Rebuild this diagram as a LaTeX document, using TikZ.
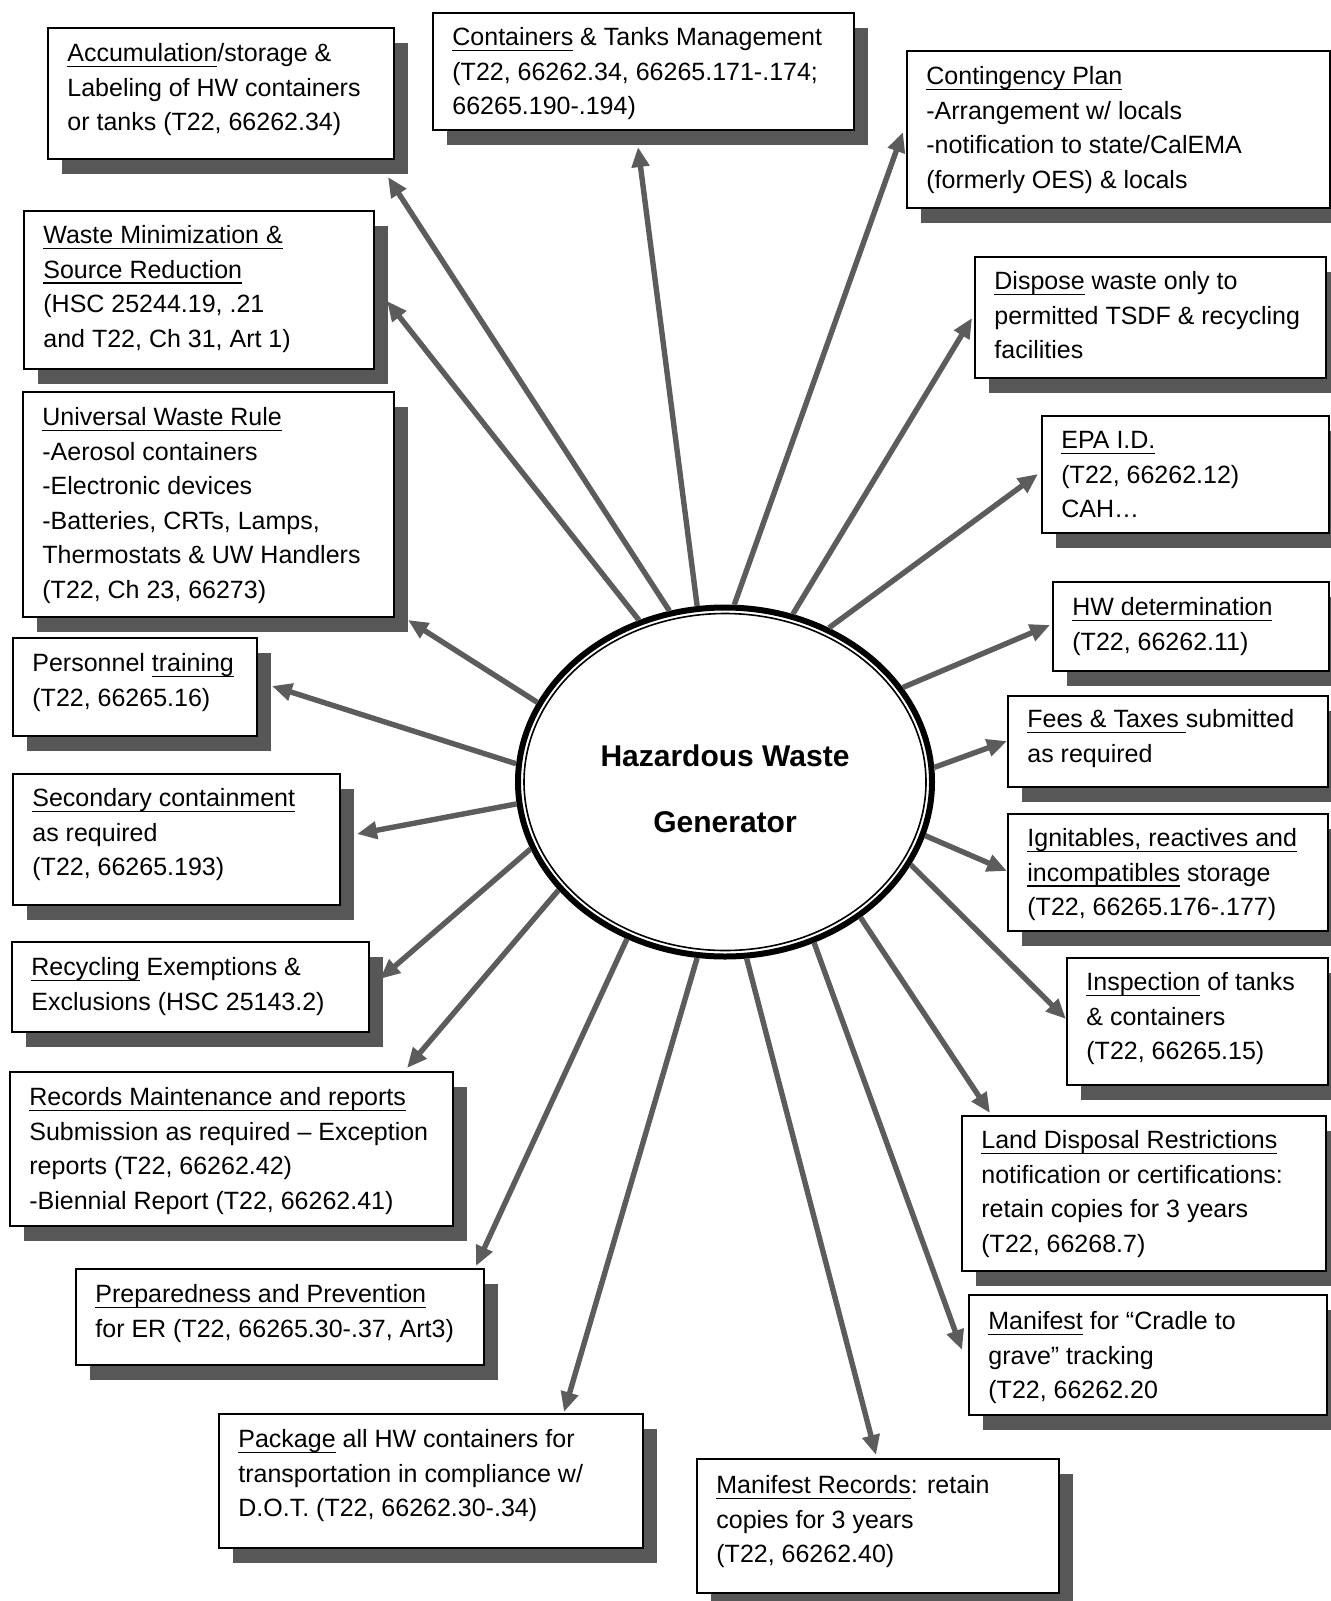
\documentclass[tikz,border=0pt]{standalone}
\usepackage{fontspec}
\setmainfont{Liberation Sans}
\usetikzlibrary{shadows,arrows.meta,shapes.geometric,calc}
\definecolor{shadowgray}{gray}{0.34}
\definecolor{arrowgray}{gray}{0.36}
\newcommand\ulx[1]{{\setbox0\hbox{#1}\rlap{\rule[-2.8pt]{\wd0}{0.65pt}}\box0}}
\newcommand\mkbox[7]{%
  \node[hwbox, minimum width={(#4-#2)*0.5pt}, minimum height={(#5-#3)*0.5pt}] (#1) at (#2,#3) {};
  \node[boxtext] (#1-t) at (#2+20,#3+#6) {#7};}
\begin{document}
\begin{tikzpicture}[x=0.5pt,y=-0.5pt,
  hwbox/.style={draw=black, fill=white, line width=1pt, inner sep=0pt, anchor=north west,
    drop shadow={shadow xshift=7pt, shadow yshift=-7.5pt, fill=shadowgray, opacity=1}},
  boxtext/.style={anchor=north west, inner sep=0pt, align=left, font=\fontsize{12.5pt}{17.25pt}\selectfont},
  arr/.style={draw=arrowgray, line width=2.7pt, -{Triangle[length=10pt,width=8.5pt]}},
  hub/.style={ellipse, draw=black, line width=3pt, fill=white, minimum width=207pt, minimum height=174.5pt, inner sep=0pt},
  hubtext/.style={align=center, inner sep=0pt, font=\bfseries\fontsize{15pt}{33pt}\selectfont}
]
\fill[white] (0,0) rectangle (1331,1601);
\useasboundingbox (0,0) rectangle (1331,1601);

% left column
\mkbox{acc}{47}{27}{393}{158}{16}{\ulx{Accumulation}/storage \&\\Labeling of HW containers\\or tanks (T22, 66262.34)}
\mkbox{wmin}{23}{210}{373}{368}{15}{\ulx{Waste Minimization \&}\\\ulx{Source Reduction}\\(HSC 25244.19, .21\\and T22, Ch 31, Art 1)}
\mkbox{univ}{22}{391}{393}{616}{16}{\ulx{Universal Waste Rule}\\-Aerosol containers\\-Electronic devices\\-Batteries, CRTs, Lamps,\\Thermostats \& UW Handlers\\(T22, Ch 23, 66273)}
\mkbox{pers}{12}{637}{256}{735}{16}{Personnel \ulx{training}\\(T22, 66265.16)}
\mkbox{sec}{12}{773}{339}{904}{15}{\ulx{Secondary containment}\\as required\\(T22, 66265.193)}
\mkbox{recyc}{11}{941}{368}{1031}{16}{\ulx{Recycling} Exemptions \&\\Exclusions (HSC 25143.2)}
\mkbox{rec}{9}{1071}{452}{1225}{16}{\ulx{Records Maintenance and reports}\\Submission as required – Exception\\reports (T22, 66262.42)\\-Biennial Report (T22, 66262.41)}
\mkbox{prep}{75}{1268}{483}{1364}{16}{\ulx{Preparedness and Prevention}\\for ER (T22, 66265.30-.37, Art3)}
\mkbox{pack}{218}{1413}{642}{1547}{16}{\ulx{Package} all HW containers for\\transportation in compliance w/\\D.O.T. (T22, 66262.30-.34)}
\mkbox{mrec}{696}{1458}{1058}{1592}{17}{\ulx{Manifest Records}: retain\\copies for 3 years\\(T22, 66262.40)}

% top and right column
\mkbox{cont}{432}{12}{853}{129}{15}{\ulx{Containers} \& Tanks Management\\(T22, 66262.34, 66265.171-.174;\\66265.190-.194)}
\mkbox{cgy}{906}{50}{1329}{207}{16}{\ulx{Contingency Plan}\\-Arrangement w/ locals\\-notification to state/CalEMA\\(formerly OES) \& locals}
\mkbox{disp}{974}{256}{1325}{377}{15}{\ulx{Dispose} waste only to\\permitted TSDF \& recycling\\facilities}
\mkbox{epa}{1041}{415}{1328}{532}{16}{\ulx{EPA I.D.}\\(T22, 66262.12)\\CAH…}
\mkbox{hwd}{1052}{581}{1328}{670}{16}{\ulx{HW determination}\\(T22, 66262.11)}
\mkbox{fees}{1007}{695}{1327}{786}{14}{\ulx{Fees \& Taxes }submitted\\as required}
\mkbox{ign}{1007}{813}{1327}{930}{15}{\ulx{Ignitables, reactives and}\\\ulx{incompatibles} storage\\(T22, 66265.176-.177)}
\mkbox{insp}{1066}{957}{1327}{1084}{15}{\ulx{Inspection} of tanks\\\& containers\\(T22, 66265.15)}
\mkbox{land}{961}{1115}{1325}{1270}{15}{\ulx{Land Disposal Restrictions}\\notification or certifications:\\retain copies for 3 years\\(T22, 66268.7)}
\mkbox{man}{968}{1294}{1326}{1414}{17}{\ulx{Manifest} for “Cradle to\\grave” tracking\\(T22, 66262.20}

% arrow end points on the boxes
\coordinate (acc-in) at ([shift={(341,150)}]acc.north west);
\coordinate (wmin-in) at ([shift={(364,91)}]wmin.north west);
\coordinate (univ-in) at ([shift={(386,229)}]univ.north west);
\coordinate (pers-in) at ([shift={(260,49)}]pers.north west);
\coordinate (sec-in) at ([shift={(345,61)}]sec.north west);
\coordinate (recyc-in) at ([shift={(369,38)}]recyc.north west);
\coordinate (rec-in) at ([shift={(398,-3)}]rec.north west);
\coordinate (prep-in) at ([shift={(401,-2)}]prep.north west);
\coordinate (pack-in) at ([shift={(346,-1)}]pack.north west);
\coordinate (mrec-in) at ([shift={(180,-3)}]mrec.north west);
\coordinate (man-in) at ([shift={(-6,56)}]man.north west);
\coordinate (land-in) at ([shift={(29,-2)}]land.north west);
\coordinate (insp-in) at ([shift={(0,62)}]insp.north west);
\coordinate (ign-in) at ([shift={(0,58)}]ign.north west);
\coordinate (fees-in) at ([shift={(0,46)}]fees.north west);
\coordinate (hwd-in) at ([shift={(-2,44)}]hwd.north west);
\coordinate (epa-in) at ([shift={(-3,59)}]epa.north west);
\coordinate (disp-in) at ([shift={(-2,62)}]disp.north west);
\coordinate (cgy-in) at ([shift={(-3,82)}]cgy.north west);
\coordinate (cont-in) at ([shift={(206,135)}]cont.north west);

% central ellipse
\node[hub] (hw) at (725,782) {};

\draw[arr] (hw.108.5) -- (acc-in);
\draw[arr] (hw.118.5) -- (wmin-in);
\draw[arr] (hw.157.2) -- (univ-in);
\draw[arr] (hw.175.9) -- (pers-in);
\draw[arr] (hw.186.8) -- (sec-in);
\draw[arr] (hw.199) -- (recyc-in);
\draw[arr] (hw.213.9) -- (rec-in);
\draw[arr] (hw.238.5) -- (prep-in);
\draw[arr] (hw.261.2) -- (pack-in);
\draw[arr] (hw.277.4) -- (mrec-in);
\draw[arr] (hw.299.6) -- (man-in);
\draw[arr] (hw.315.2) -- (land-in);
\draw[arr] (hw.336.4) -- (insp-in);
\draw[arr] (hw.345.6) -- (ign-in);
\draw[arr] (hw.4.7) -- (fees-in);
\draw[arr] (hw.28.3) -- (hwd-in);
\draw[arr] (hw.56.4) -- (epa-in);
\draw[arr] (hw.68.1) -- (disp-in);
\draw[arr] (hw.87.7) -- (cgy-in);
\draw[arr] (hw.99) -- (cont-in);

\draw[line width=0.8pt] (hw.center) ellipse [x radius=100.5pt, y radius=84.25pt];
\node[hubtext] (hw-t) at (725,789) {Hazardous Waste\\Generator};
\end{tikzpicture}
\end{document}
